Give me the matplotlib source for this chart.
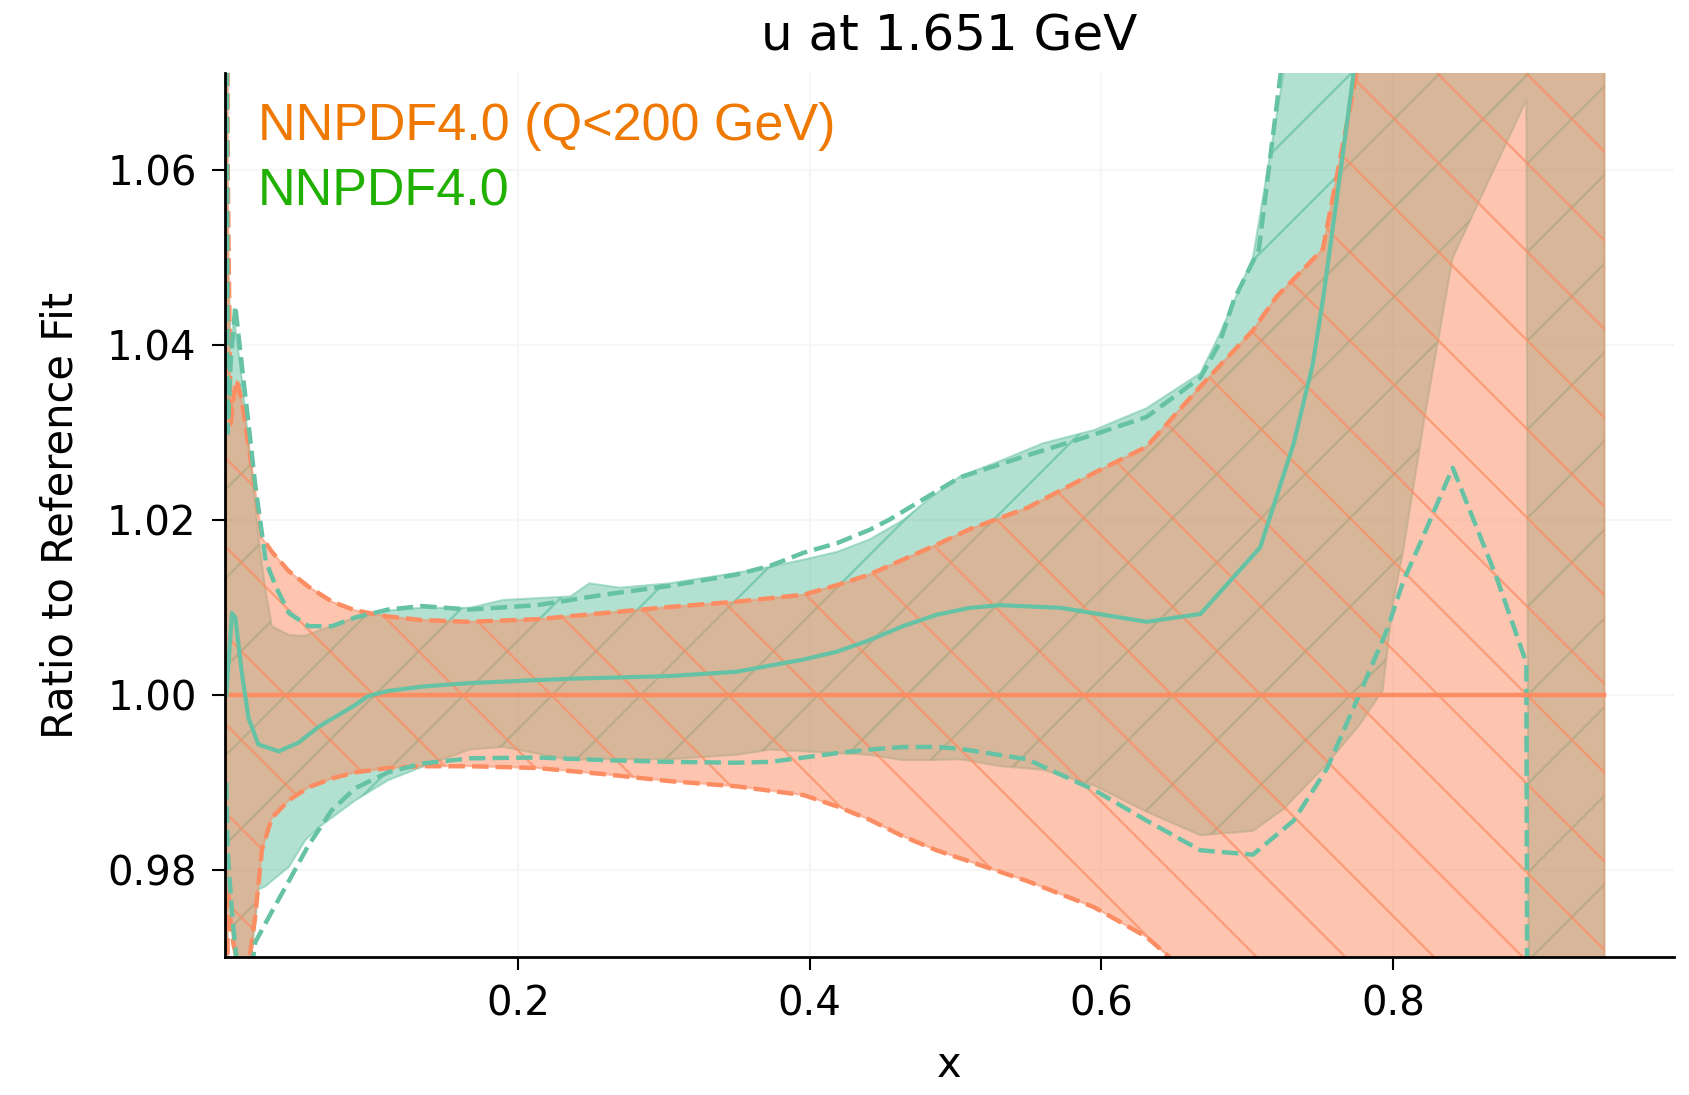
import matplotlib
matplotlib.use("Agg")
import matplotlib.pyplot as plt
from matplotlib.lines import Line2D

W_PX, H_PX = 1690, 1095
ORANGE = "#fc8d62"
GREEN = "#66c2a5"

title = "u at 1.651 GeV"
labels = ["NNPDF4.0 (Q<200 GeV)", "NNPDF4.0"]
label_colors = ["#ef7800", "#20b000"]
xticks = [0.2, 0.4, 0.6, 0.8]
yticks = [0.98, 1.00, 1.02, 1.04, 1.06]

# reference fit (Q<200 GeV): 1-sigma band, central value = 1
x_ref = [0.00001, 0.001, 0.003, 0.005, 0.0073, 0.0108, 0.0153, 0.0199, 0.0245,
         0.0313, 0.0428, 0.0565, 0.0725, 0.0885, 0.111, 0.134, 0.167, 0.213,
         0.259, 0.304, 0.350, 0.396, 0.419, 0.441, 0.464, 0.487, 0.510, 0.549,
         0.595, 0.631, 0.668, 0.704, 0.720, 0.752, 0.775, 0.800, 0.945]
ref_up = [1.20, 1.06, 1.031, 1.034, 1.036, 1.0335, 1.0285, 1.0235, 1.018,
          1.0164, 1.0142, 1.0124, 1.0107, 1.0097, 1.0090, 1.0086, 1.0084, 1.0087,
          1.0094, 1.0101, 1.0107, 1.0115, 1.0126, 1.0138, 1.0155, 1.0172, 1.0190,
          1.0214, 1.0254, 1.0284, 1.0353, 1.0417, 1.0455, 1.051, 1.071, 1.11, 1.20]
ref_lo = [0.90, 0.978, 0.974, 0.9715, 0.970, 0.966, 0.969, 0.9748, 0.9824,
          0.9860, 0.9880, 0.9895, 0.9905, 0.9912, 0.9917, 0.9919, 0.9919, 0.9917,
          0.9910, 0.9902, 0.9896, 0.9886, 0.9873, 0.9858, 0.9839, 0.9823, 0.9810,
          0.9788, 0.9758, 0.9724, 0.967, 0.960, 0.957, 0.950, 0.945, 0.94, 0.90]
x_ref_cv = [0.00001, 0.945]
ref_cv = [1.0, 1.0]

# NNPDF4.0 band
x_nn = [0.00001, 0.001, 0.003, 0.005, 0.0062, 0.0108, 0.0153, 0.0199, 0.022,
        0.027, 0.0313, 0.043, 0.054, 0.0633, 0.0885, 0.111, 0.134, 0.167, 0.190,
        0.236, 0.249, 0.270, 0.304, 0.350, 0.373, 0.396, 0.419, 0.441, 0.464,
        0.483, 0.503, 0.531, 0.560, 0.595, 0.631, 0.668, 0.681, 0.704, 0.725, 0.755,
        0.777, 0.793, 0.800, 0.807, 0.822, 0.841, 0.8915, 0.894, 0.945]
nn_up = [1.20, 1.05, 1.040, 1.0425, 1.042, 1.036, 1.029, 1.022, 1.018,
         1.012, 1.0079, 1.0069, 1.0068, 1.0074, 1.0089, 1.0097, 1.0100, 1.0100, 1.0109,
         1.0113, 1.0128, 1.0123, 1.0128, 1.0140, 1.0147, 1.0155, 1.0164, 1.0178, 1.0200,
         1.0226, 1.0250, 1.0268, 1.0288, 1.0303, 1.0328, 1.0368, 1.0412, 1.050, 1.071, 1.10,
         1.12, 1.13, 1.14, 1.15, 1.16, 1.17, 1.20, 1.20, 1.25]
nn_lo = [0.90, 0.980, 0.975, 0.972, 0.969, 0.966, 0.968, 0.974, 0.9778,
         0.9782, 0.9788, 0.9804, 0.9834, 0.9849, 0.9880, 0.9903, 0.9918, 0.9938, 0.9941,
         0.9926, 0.9927, 0.9927, 0.9927, 0.9932, 0.9938, 0.9936, 0.9934, 0.9932, 0.9926,
         0.9926, 0.9927, 0.9919, 0.9915, 0.9897, 0.9867, 0.9840, 0.9842, 0.9845, 0.9870, 0.9922,
         0.9966, 1.0006, 1.0105, 1.0165, 1.032, 1.050, 1.068, 0.90, 0.90]

x_nn_cv = [0.00001, 0.0039, 0.0062, 0.0108, 0.0153, 0.022, 0.0359, 0.0496, 0.0633,
           0.0885, 0.097, 0.111, 0.134, 0.167, 0.236, 0.304, 0.350, 0.396, 0.419,
           0.441, 0.464, 0.487, 0.510, 0.531, 0.572, 0.631, 0.668, 0.709, 0.732,
           0.745, 0.752, 0.763, 0.773, 0.79]
nn_cv = [1.0, 1.0094, 1.0089, 1.0024, 0.9974, 0.9944, 0.9936, 0.9946, 0.9964,
         0.9989, 0.9999, 1.0005, 1.0010, 1.0014, 1.0019, 1.0022, 1.0027, 1.0041, 1.0050,
         1.0063, 1.0079, 1.0092, 1.0100, 1.0103, 1.0100, 1.0084, 1.0093, 1.0169, 1.0288,
         1.0378, 1.0452, 1.0586, 1.071, 1.10]

# NNPDF4.0 68% CL dashed limits
x_nn_du = [0.00001, 0.001, 0.003, 0.0062, 0.0108, 0.0153, 0.0199, 0.027, 0.034,
           0.043, 0.0565, 0.0725, 0.0885, 0.111, 0.134, 0.167, 0.213, 0.259, 0.304,
           0.350, 0.373, 0.396, 0.419, 0.441, 0.455, 0.503, 0.549, 0.595, 0.631,
           0.668, 0.681, 0.691, 0.708, 0.723, 0.74]
nn_du = [1.10, 1.03, 1.038, 1.0445, 1.0375, 1.031, 1.024, 1.0154, 1.0124,
         1.0094, 1.0079, 1.0079, 1.0089, 1.0098, 1.0102, 1.0098, 1.0103, 1.0115, 1.0125,
         1.0138, 1.0148, 1.0163, 1.0174, 1.0189, 1.0201, 1.0249, 1.0274, 1.0298, 1.0318,
         1.0363, 1.0402, 1.0452, 1.0509, 1.071, 1.10]
x_nn_dl = [0.00001, 0.001, 0.004, 0.0075, 0.012, 0.0199, 0.0313, 0.043, 0.0565,
           0.0725, 0.0885, 0.111, 0.134, 0.167, 0.213, 0.259, 0.304, 0.350, 0.373,
           0.396, 0.419, 0.441, 0.464, 0.487, 0.503, 0.549, 0.595, 0.631, 0.668,
           0.704, 0.732, 0.755, 0.777, 0.796, 0.807, 0.819, 0.841, 0.871, 0.8915, 0.893]
nn_dl = [0.99, 0.982, 0.975, 0.969, 0.962, 0.9718, 0.9753, 0.9788, 0.9829,
         0.9869, 0.9894, 0.9912, 0.9922, 0.9928, 0.9929, 0.9926, 0.9924, 0.9923, 0.9924,
         0.9929, 0.9934, 0.9938, 0.9941, 0.9941, 0.9939, 0.9927, 0.9892, 0.9857, 0.9823,
         0.9818, 0.9857, 0.9917, 1.0001, 1.0075, 1.0130, 1.0175, 1.026, 1.0135, 1.0037, 0.90]


def add_hatch(ax, band, direction, color, offset, step=88.7, lw=1.7, alpha=0.7, z=1):
    # 45 degree hatch lines drawn in pixel space, clipped to the band polygon
    bb = ax.get_position()
    x0, x1 = bb.x0 * W_PX, bb.x1 * W_PX
    top, bottom = (1 - bb.y1) * H_PX, (1 - bb.y0) * H_PX
    path = band.get_paths()[0]
    if direction > 0:   # "\\" : y_img = x_img + c
        cmin, cmax = top - x1, bottom - x0
    else:               # "/" : y_img = -x_img + c
        cmin, cmax = top + x0, bottom + x1
    k0 = int((cmin - offset) // step) - 1
    k1 = int((cmax - offset) // step) + 2
    for k in range(k0, k1):
        c = offset + k * step
        xs = [x0, x1]
        ys = [direction * xv + c for xv in xs]
        u = [(xv - x0) / (x1 - x0) for xv in xs]
        v = [(bottom - yv) / (bottom - top) for yv in ys]
        ln = Line2D(u, v, transform=ax.transAxes, color=color, lw=lw,
                    alpha=alpha, zorder=z)
        ax.add_line(ln)
        ln.set_clip_path(path, ax.transData)


fig = plt.figure(figsize=(W_PX / 100, H_PX / 100), dpi=100)
ax = fig.add_axes([0.1331, 0.1260, 0.8574, 0.8073])

ax.set_axisbelow(True)
ax.grid(True, color="#f6f6f6", lw=1.5)

nn_band = ax.fill_between(x_nn, nn_lo, nn_up, facecolor=GREEN, edgecolor=GREEN,
                          alpha=0.5, lw=1.5, zorder=1)
add_hatch(ax, nn_band, -1, GREEN, 1247.2, z=1.1)

ref_band = ax.fill_between(x_ref, ref_lo, ref_up, facecolor=ORANGE, edgecolor=ORANGE,
                           alpha=0.5, lw=1.5, zorder=2)
add_hatch(ax, ref_band, 1, ORANGE, 143.8, z=2.1)

ax.plot(x_ref, ref_up, color=ORANGE, ls="--", lw=3.2, zorder=3)
ax.plot(x_ref, ref_lo, color=ORANGE, ls="--", lw=3.2, zorder=3)
ax.plot(x_nn_du, nn_du, color=GREEN, ls="--", lw=3.2, zorder=4)
ax.plot(x_nn_dl, nn_dl, color=GREEN, ls="--", lw=3.2, zorder=4)
ax.plot(x_ref_cv, ref_cv, color=ORANGE, lw=3.2, zorder=5)
ax.plot(x_nn_cv, nn_cv, color=GREEN, lw=3.0, zorder=5)

ax.set_xlim(-0.0009, 0.9927)
ax.set_ylim(0.9701, 1.0711)
ax.set_xticks(xticks)
ax.set_xticklabels([f"{t:.1f}" for t in xticks])
ax.set_yticks(yticks)
ax.set_yticklabels([f"{t:.2f}" for t in yticks])
ax.tick_params(labelsize=29, length=9.5, width=1.5, pad=10.5)
ax.tick_params(axis="y", pad=11)
for s in ["top", "right"]:
    ax.spines[s].set_visible(False)
for s in ["left", "bottom"]:
    ax.spines[s].set_linewidth(2.0)
    ax.spines[s].set_zorder(6)

ax.set_title(title, fontsize=36, pad=16.5)
ax.set_xlabel("x", fontsize=30)
ax.set_ylabel("Ratio to Reference Fit", fontsize=30)
ax.xaxis.set_label_coords(0.5, -0.0984)
ax.yaxis.set_label_coords(-0.0987, 0.5)

for i, (lab, col) in enumerate(zip(labels, label_colors)):
    fig.text(258 / W_PX, 1 - (140 + 66 * i) / H_PX, lab, color=col,
             fontsize=37.5, family="Liberation Sans", ha="left", va="baseline")

fig.savefig("out.png", dpi=100)
